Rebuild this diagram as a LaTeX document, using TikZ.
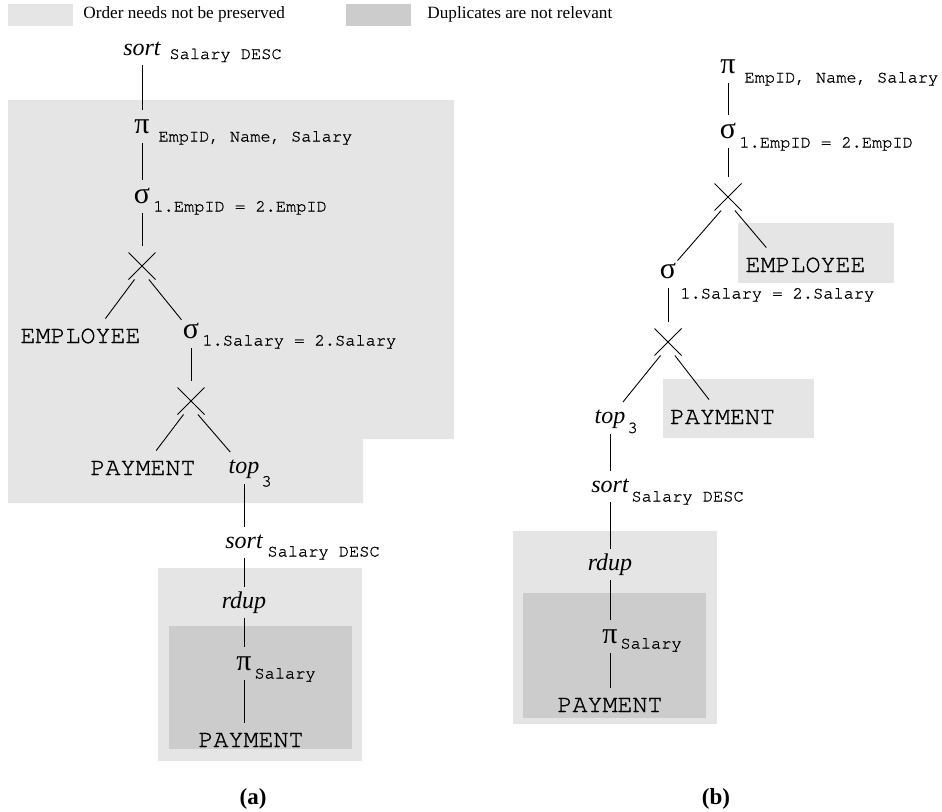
\documentclass[tikz,border=0pt]{standalone}
\usepackage{fontspec}
\setmainfont{Liberation Serif}
\newfontfamily\codefont[FakeBold=1]{TeX Gyre Cursor}
\usetikzlibrary{shapes.misc}

\definecolor{unordered}{gray}{0.9}
\definecolor{nodups}{gray}{0.8}

\begin{document}
\begin{tikzpicture}[x = 1pt, y = -1pt, line width = 0.9pt,
                    op/.style = {anchor = base, inner xsep = 1pt, inner ysep = 10pt,
                                 text height = 11pt, text depth = 0pt,
                                 font = \fontsize{24}{28}\selectfont\itshape},
                    greek/.style = {op, text height = 13pt, font = \fontsize{30}{34}\selectfont},
                    rel/.style = {anchor = base, inner xsep = 2pt, inner ysep = 10pt,
                                  text height = 14pt, text depth = 0pt,
                                  font = \fontsize{25}{30}\selectfont\codefont},
                    sub/.style = {anchor = base west, inner sep = 0pt,
                                  font = \fontsize{17}{20}\selectfont\codefont},
                    product/.style = {cross out, draw, minimum size = 21pt,
                                      inner sep = 0pt, outer sep = 3pt},
                    into/.style = {shorten > = 7pt},
                    legend/.style = {anchor = base west, inner sep = 0pt,
                                     font = \fontsize{17.2}{20}\selectfont},
                    caption/.style = {anchor = base, font = \fontsize{23}{28}\selectfont\bfseries}]
  \useasboundingbox (0, 0) rectangle (942, 811);

  % legend
  \fill [unordered] (8, 4) rectangle (73, 26);
  \node [legend] (keyA) at (83, 19) {Order needs not be preserved};
  \fill [nodups] (346, 4) rectangle (411, 26);
  \node [legend] (keyB) at (427, 19) {Duplicates are not relevant};

  % shaded parts of (a)
  \fill [unordered] (8, 100) -- (454, 100) -- (454, 439) -- (363, 439)
                    -- (363, 503) -- (8, 503) -- cycle;
  \fill [unordered] (158, 568) rectangle (362, 761);
  \fill [nodups] (169, 626) rectangle (352, 749);

  % shaded parts of (b)
  \fill [unordered] (738, 223) rectangle (894, 283);
  \fill [unordered] (663, 379) rectangle (814, 438);
  \fill [unordered] (513, 531) rectangle (717, 724);
  \fill [nodups] (523, 593) rectangle (706, 718);

  % plan (a)
  \node [op] (sortA) at (142, 55) {sort};
  \node [sub] (sortAsub) at (169, 59) {Salary DESC};
  \node [greek] (piA) at (142, 133) {π};
  \node [sub] (piAsub) at (158, 141.5) {EmpID, Name, Salary};
  \node [greek] (selA) at (142, 203) {σ};
  \node [sub] (selAsub) at (153, 211.5) {1.EmpID = 2.EmpID};
  \node [product] (prodA) at (142, 266) {};
  \node [rel] (empA) at (80.5, 343) {EMPLOYEE};
  \node [greek] (salA) at (191, 338) {σ};
  \node [sub] (salAsub) at (202, 345.5) {1.Salary = 2.Salary};
  \node [product] (prodA2) at (191, 401) {};
  \node [rel] (payA) at (143, 475) {PAYMENT};
  \node [op] (topA) at (244, 473.5) {top};
  \node [sub] (topAsub) at (261, 486.5) {3};
  \node [op] (sortA2) at (244, 548) {sort};
  \node [sub] (sortA2sub) at (267, 556.5) {Salary DESC};
  \node [op] (rdupA) at (244, 608) {rdup};
  \node [greek] (piA2) at (244, 670) {π};
  \node [sub] (piA2sub) at (254, 678.5) {Salary};
  \node [rel] (payA2) at (251, 747) {PAYMENT};
  \node [caption] (capA) at (253, 804) {(a)};

  \draw (sortA) -- (piA);
  \draw (piA) -- (selA);
  \draw [into] (selA) -- (prodA);
  \draw (prodA.241) -- (empA.35);
  \draw (prodA.297) -- (salA);
  \draw [into] (salA) -- (prodA2);
  \draw (prodA2.241) -- (payA);
  \draw (prodA2.297) -- (topA);
  \draw (topA) -- (sortA2);
  \draw (sortA2) -- (rdupA);
  \draw (rdupA) -- (piA2);
  \draw (piA2) -- (piA2 |- payA2.north);

  % plan (b)
  \node [greek] (piB) at (728, 73) {π};
  \node [sub] (piBsub) at (744, 82.5) {EmpID, Name, Salary};
  \node [greek] (selB) at (728, 138) {σ};
  \node [sub] (selBsub) at (739, 147.5) {1.EmpID = 2.EmpID};
  \node [product] (prodB) at (728, 197) {};
  \node [rel] (empB) at (805.5, 272) {EMPLOYEE};
  \node [greek] (salB) at (668, 278) {σ};
  \node [sub] (salBsub) at (680, 298.5) {1.Salary = 2.Salary};
  \node [product] (prodB2) at (668, 342) {};
  \node [rel] (payB) at (722.5, 424) {PAYMENT};
  \node [op] (topB) at (610, 423.5) {top};
  \node [sub] (topBsub) at (627, 433) {3};
  \node [op] (sortB) at (610, 492) {sort};
  \node [sub] (sortBsub) at (631, 501.5) {Salary DESC};
  \node [op] (rdupB) at (610, 570) {rdup};
  \node [greek] (piB2) at (610, 643) {π};
  \node [sub] (piB2sub) at (620, 648.5) {Salary};
  \node [rel] (payB2) at (610, 712) {PAYMENT};
  \node [caption] (capB) at (716, 804) {(b)};

  \draw (piB) -- (selB);
  \draw [into] (selB) -- (prodB);
  \draw (prodB.243) -- (salB);
  \draw (prodB.297) -- (empB.156);
  \draw [into] (salB) -- (prodB2);
  \draw (prodB2.241) -- (topB);
  \draw (prodB2.297) -- (payB);
  \draw (topB) -- (sortB);
  \draw (sortB) -- (rdupB);
  \draw (rdupB) -- (piB2);
  \draw (piB2) -- (payB2);
\end{tikzpicture}
\end{document}
